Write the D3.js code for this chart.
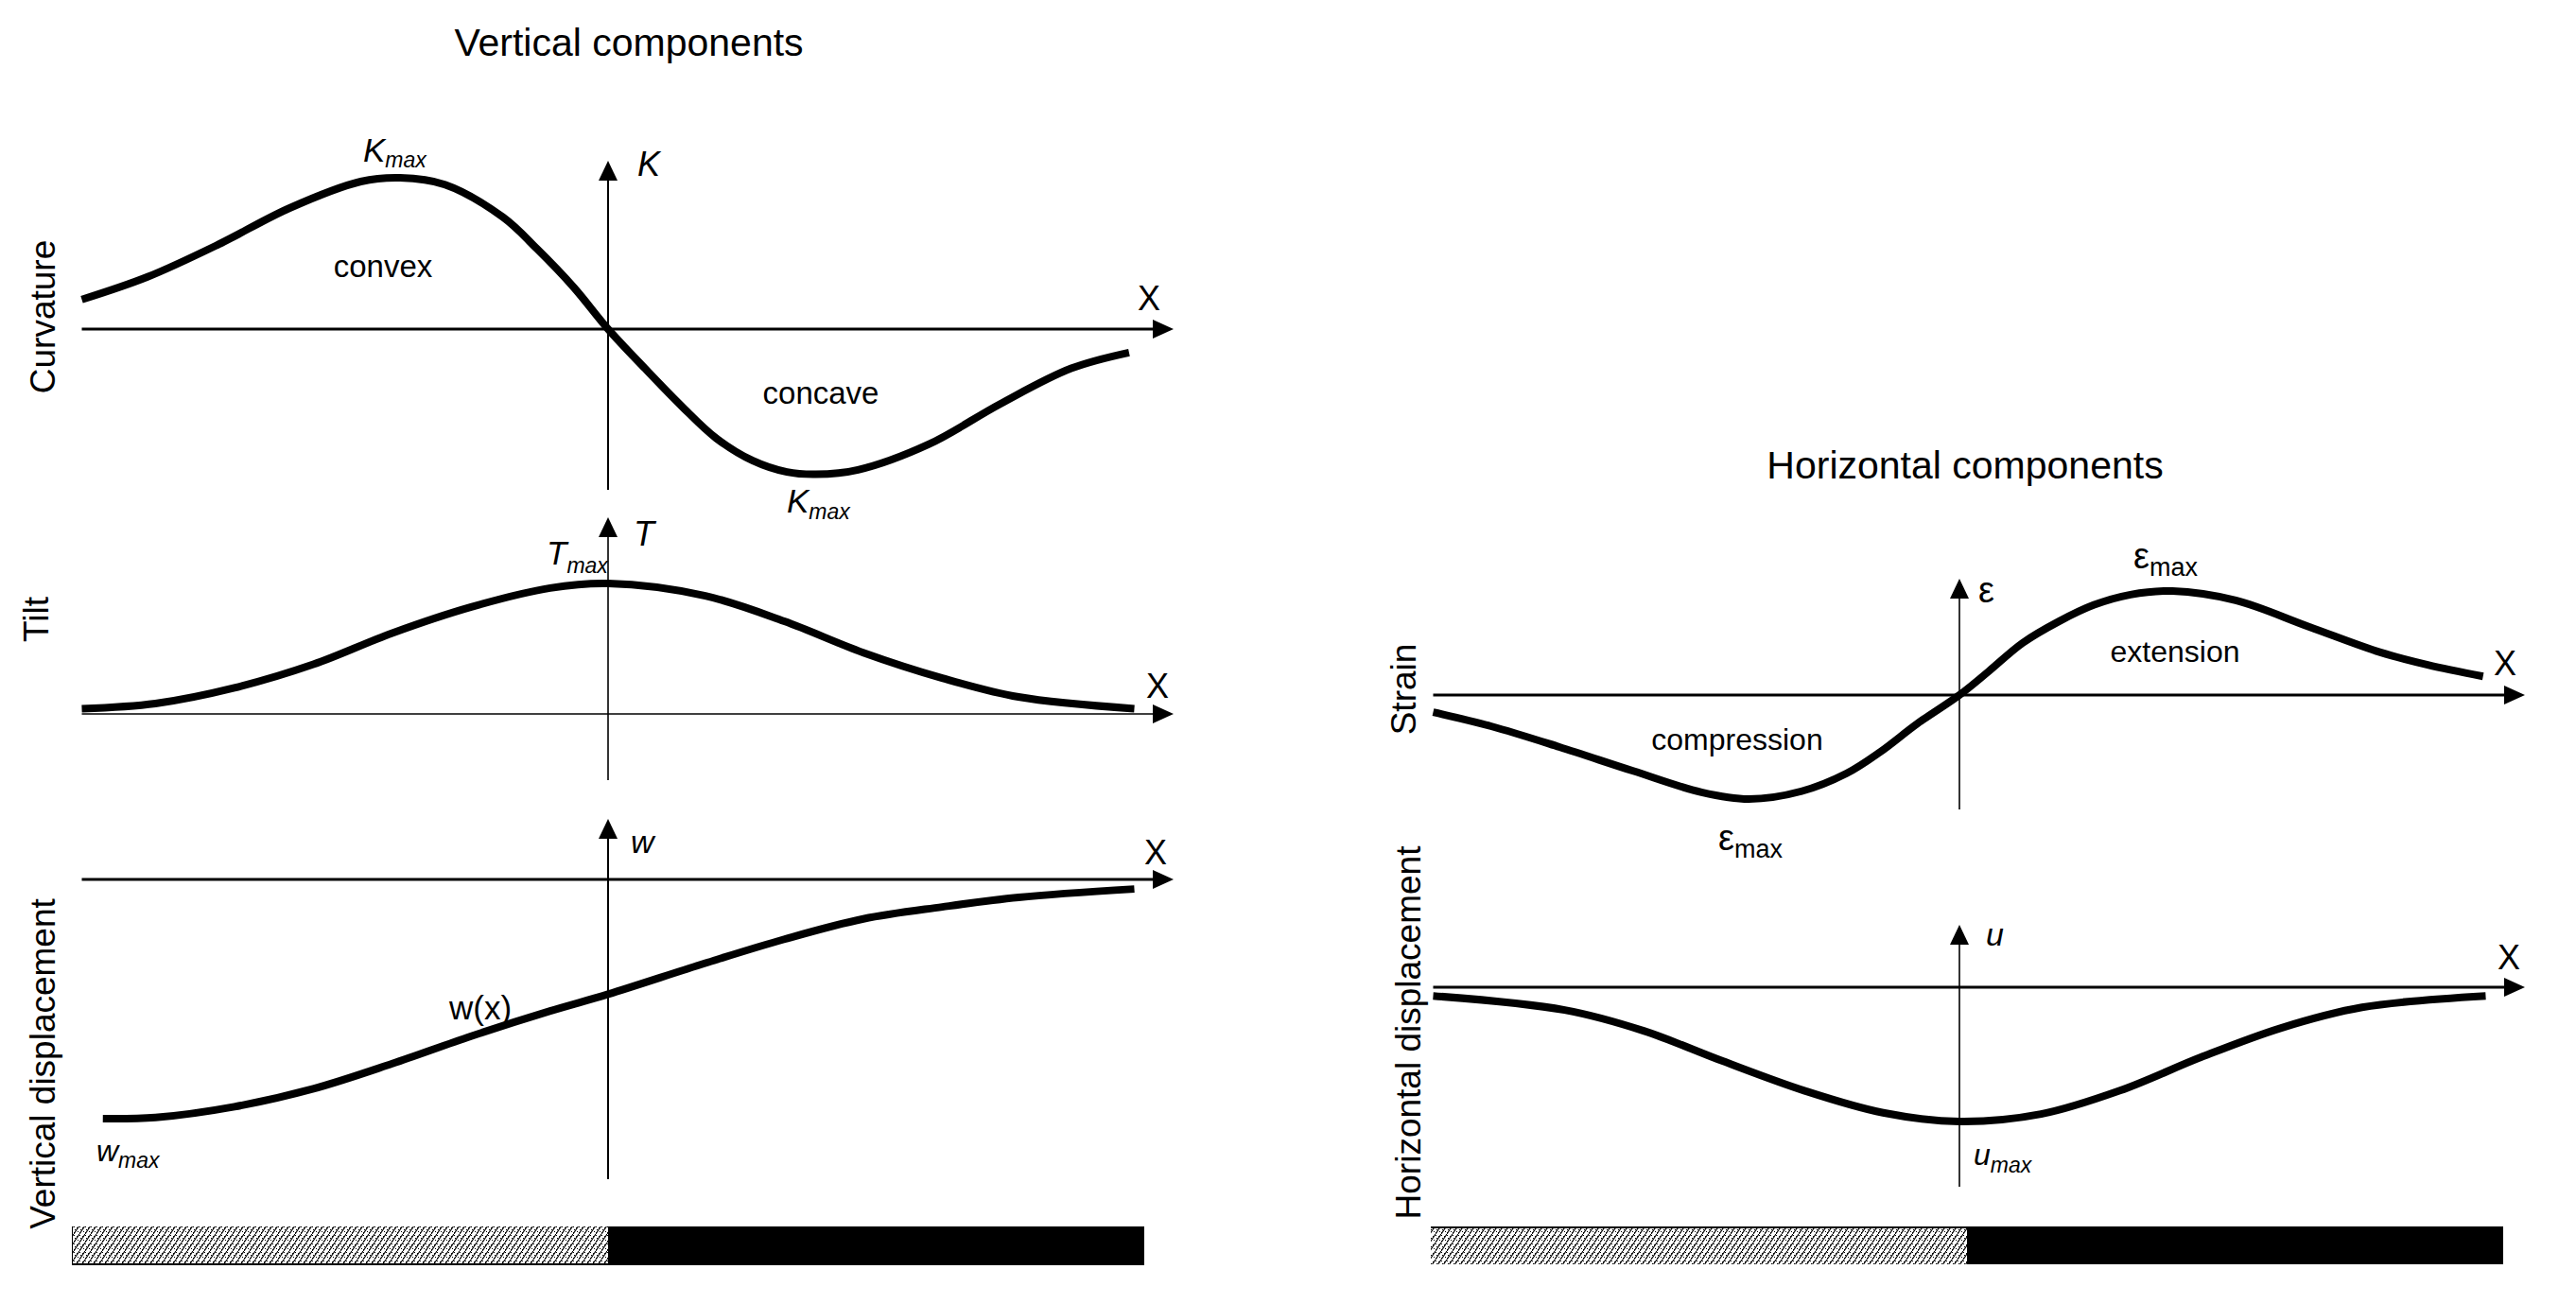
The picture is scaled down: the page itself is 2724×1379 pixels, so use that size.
<!DOCTYPE html>
<html lang="en">

<head>
  <meta charset="UTF-8">
  <title>Vertical and horizontal components</title>
  <script src="https://d3js.org/d3.v7.min.js"></script>
  <style>
    body {
      margin: 0;
      background: white;
    }

    svg {
      display: block;
    }

    text {
      font-family: "Liberation Sans", Arial, sans-serif;
      fill: black;
    }
  </style>
</head>

<body>
  <div id="chart"></div>

  <script>
    // curvature K / Kmax
    const curvatureX = [-1.0, -0.875, -0.74, -0.605, -0.47, -0.395, -0.31, -0.2, -0.135, -0.065, 0, 0.07, 0.14, 0.205, 0.275, 0.34, 0.395, 0.475, 0.61, 0.745, 0.88, 0.99]
    const curvatureK = [0.195, 0.345, 0.56, 0.8, 0.975, 1.0, 0.955, 0.74, 0.53, 0.275, 0, -0.26, -0.51, -0.72, -0.87, -0.945, -0.96, -0.93, -0.76, -0.495, -0.26, -0.155]

    // tilt T / Tmax
    const tiltX = [-1.0, -0.86, -0.71, -0.56, -0.41, -0.26, -0.11, 0, 0.185, 0.335, 0.485, 0.635, 0.78, 1.0]
    const tiltT = [0.04, 0.08, 0.2, 0.38, 0.62, 0.82, 0.965, 1.0, 0.905, 0.71, 0.47, 0.275, 0.13, 0.04]

    // vertical displacement w / wmax
    const subsidenceX = [-0.96, -0.86, -0.71, -0.56, -0.41, -0.26, -0.11, 0, 0.185, 0.335, 0.485, 0.635, 0.78, 1.0]
    const subsidenceW = [-1.0, -0.995, -0.95, -0.875, -0.77, -0.655, -0.55, -0.48, -0.35, -0.25, -0.165, -0.115, -0.075, -0.04]

    // horizontal strain e / emax
    const strainX = [-1.0, -0.89, -0.76, -0.62, -0.49, -0.4, -0.3, -0.215, -0.15, -0.08, 0, 0.055, 0.12, 0.19, 0.255, 0.325, 0.405, 0.525, 0.665, 0.8, 0.89, 0.995]
    const strainE = [-0.165, -0.3, -0.5, -0.73, -0.935, -1.0, -0.925, -0.755, -0.545, -0.275, 0, 0.225, 0.5, 0.71, 0.865, 0.965, 1.0, 0.91, 0.655, 0.41, 0.29, 0.18]

    // horizontal displacement u / umax
    const displacementX = [-1.0, -0.75, -0.6, -0.45, -0.295, -0.145, 0, 0.155, 0.305, 0.46, 0.61, 0.765, 1.0]
    const displacementU = [-0.065, -0.17, -0.325, -0.55, -0.77, -0.935, -1.0, -0.945, -0.77, -0.52, -0.305, -0.15, -0.065]

    // ground strip under each column: goaf (hatched) and solid
    const stripFrom = [-1, 0]
    const stripTo = [0, 1]
    const stripKind = ['hatch', 'solid']

    const width = 2724
    const height = 1379
    const halfWidth = 556.5

    const svg = d3.select('#chart')
      .append('svg')
      .attr('width', width)
      .attr('height', height)

    const defs = svg.append('defs')
    const hatch = defs.append('pattern')
      .attr('id', 'hatch')
      .attr('patternUnits', 'userSpaceOnUse')
      .attr('width', 6)
      .attr('height', 9)
    hatch.append('rect').attr('width', 6).attr('height', 9).attr('fill', 'white')
    hatch.append('line')
      .attr('x1', -0.5).attr('y1', 9.75).attr('x2', 6.5).attr('y2', -0.75)
      .attr('stroke', 'black').attr('stroke-width', 1.1)
    ;[[0, 1], [3, 2], [1, 4], [4, 6], [0, 7], [5, 0]].forEach(p => {
      hatch.append('rect')
        .attr('x', p[0]).attr('y', p[1])
        .attr('width', 1).attr('height', 1)
        .attr('fill', 'black')
    })

    const panels = [
      { cx: 643, zero: 348, amp: 160, top: 170, bottom: 518, xs: curvatureX, ys: curvatureK, axis: 3, yaxis: 2 },
      { cx: 643, zero: 755, amp: 138, top: 547, bottom: 825, xs: tiltX, ys: tiltT, axis: 1.6, yaxis: 1.6 },
      { cx: 643, zero: 930, amp: 253, top: 866, bottom: 1247, xs: subsidenceX, ys: subsidenceW, axis: 3, yaxis: 2 },
      { cx: 2072, zero: 735, amp: 110, top: 612, bottom: 856, xs: strainX, ys: strainE, axis: 3, yaxis: 1.6 },
      { cx: 2072, zero: 1044, amp: 142, top: 978, bottom: 1255, xs: displacementX, ys: displacementU, axis: 3, yaxis: 1.6 }
    ]

    panels.forEach(p => {
      const x = d3.scaleLinear().domain([-1, 1]).range([p.cx - halfWidth, p.cx + halfWidth])
      const y = d3.scaleLinear().domain([-1, 1]).range([p.zero + p.amp, p.zero - p.amp])
      const g = svg.append('g')

      // x axis with arrow
      const x0 = x(-1)
      const tip = p.cx + 598
      g.append('line')
        .attr('x1', x0).attr('y1', p.zero)
        .attr('x2', tip - 10).attr('y2', p.zero)
        .attr('stroke', 'black').attr('stroke-width', p.axis)
      g.append('path')
        .attr('d', `M${tip},${p.zero} L${tip - 22},${p.zero - 10} L${tip - 22},${p.zero + 10} Z`)
        .attr('fill', 'black')

      // y axis with arrow
      g.append('line')
        .attr('x1', p.cx).attr('y1', p.top + 10)
        .attr('x2', p.cx).attr('y2', p.bottom)
        .attr('stroke', 'black').attr('stroke-width', p.yaxis)
      g.append('path')
        .attr('d', `M${p.cx},${p.top} L${p.cx - 10},${p.top + 21} L${p.cx + 10},${p.top + 21} Z`)
        .attr('fill', 'black')

      const line = d3.line()
        .x(d => x(d[0]))
        .y(d => y(d[1]))
        .curve(d3.curveCatmullRom.alpha(0.5))

      g.append('path')
        .datum(d3.zip(p.xs, p.ys))
        .attr('d', line)
        .attr('fill', 'none')
        .attr('stroke', 'black')
        .attr('stroke-width', 8)
    })

    // ground strips
    const strips = [
      { cx: 643, y: 1297, h: 41, edge: 'bottom' },
      { cx: 2080, y: 1297, h: 40, edge: 'top' }
    ]
    strips.forEach(s => {
      const x = d3.scaleLinear().domain([-1, 1]).range([s.cx - 567, s.cx + 567])
      svg.append('g')
        .selectAll('rect')
        .data(d3.zip(stripFrom, stripTo, stripKind))
        .enter()
        .append('rect')
        .attr('x', d => x(d[0]))
        .attr('y', s.y)
        .attr('width', d => x(d[1]) - x(d[0]))
        .attr('height', s.h)
        .attr('fill', d => d[2] === 'hatch' ? 'url(#hatch)' : 'black')
      const ly = s.edge === 'bottom' ? s.y + s.h - 1 : s.y + 1
      svg.append('line')
        .attr('x1', x(-1)).attr('y1', ly)
        .attr('x2', x(0)).attr('y2', ly)
        .attr('stroke', 'black').attr('stroke-width', 2)
      if (s.edge === 'bottom') {
        svg.append('line')
          .attr('x1', x(-1) + 0.5).attr('y1', s.y)
          .attr('x2', x(-1) + 0.5).attr('y2', s.y + s.h)
          .attr('stroke', 'black').attr('stroke-width', 1)
      }
    })

    const text = (x, y, str, size, opts = {}) => {
      const t = svg.append('text')
        .attr('x', x)
        .attr('y', y)
        .attr('font-size', size)
        .attr('text-anchor', opts.anchor || 'start')
        .attr('font-style', opts.italic ? 'italic' : 'normal')
        .text(str)
      if (opts.rotate) t.attr('transform', `rotate(-90, ${x}, ${y})`)
      return t
    }

    const maxLabel = (x, y, sym, size, opts = {}) => {
      const t = svg.append('text')
        .attr('x', x)
        .attr('y', y)
        .attr('font-size', size)
      t.append('tspan')
        .attr('font-style', opts.italicSym ? 'italic' : 'normal')
        .text(sym)
      t.append('tspan')
        .attr('font-size', opts.subSize || 23)
        .attr('font-style', opts.italicSub ? 'italic' : 'normal')
        .attr('dy', opts.dy || 7)
        .text('max')
    }

    // titles
    text(665, 59, 'Vertical components', 41, { anchor: 'middle' })
    text(2078, 506, 'Horizontal components', 41, { anchor: 'middle' })

    // side labels
    text(58, 335, 'Curvature', 37, { anchor: 'middle', rotate: true })
    text(51, 655, 'Tilt', 37, { anchor: 'middle', rotate: true })
    text(58, 1125, 'Vertical displacement', 37, { anchor: 'middle', rotate: true })
    text(1497, 729, 'Strain', 37, { anchor: 'middle', rotate: true })
    text(1502, 1092, 'Horizontal displacement', 37, { anchor: 'middle', rotate: true })

    // axis names
    text(674, 186, 'K', 36, { italic: true })
    text(1203, 328, 'X', 36)
    text(670, 577, 'T', 36, { italic: true })
    text(1212, 738, 'X', 36)
    text(667, 902, 'w', 34, { italic: true })
    text(1210, 914, 'X', 36)
    text(2092, 637, 'ε', 38)
    text(2637, 714, 'X', 36)
    text(2100, 1000, 'u', 34, { italic: true })
    text(2641, 1025, 'X', 36)

    // region labels
    text(405, 293, 'convex', 33, { anchor: 'middle' })
    text(868, 427, 'concave', 33, { anchor: 'middle' })
    text(508, 1078, 'w(x)', 35, { anchor: 'middle' })
    text(2300, 700, 'extension', 32, { anchor: 'middle' })
    text(1837, 793, 'compression', 32, { anchor: 'middle' })

    // extreme values
    maxLabel(384, 171, 'K', 35, { italicSym: true, italicSub: true, dy: 6 })
    maxLabel(832, 542, 'K', 35, { italicSym: true, italicSub: true, dy: 7 })
    maxLabel(578, 597, 'T', 35, { italicSym: true, italicSub: true, dy: 9 })
    maxLabel(102, 1228, 'w', 32, { italicSym: true, italicSub: true, dy: 7 })
    maxLabel(2087, 1232, 'u', 32, { italicSym: true, italicSub: true, dy: 8 })
    maxLabel(2256, 601, 'ε', 38, { subSize: 27, dy: 8 })
    maxLabel(1817, 899, 'ε', 38, { subSize: 27, dy: 8 })
  </script>
</body>

</html>
